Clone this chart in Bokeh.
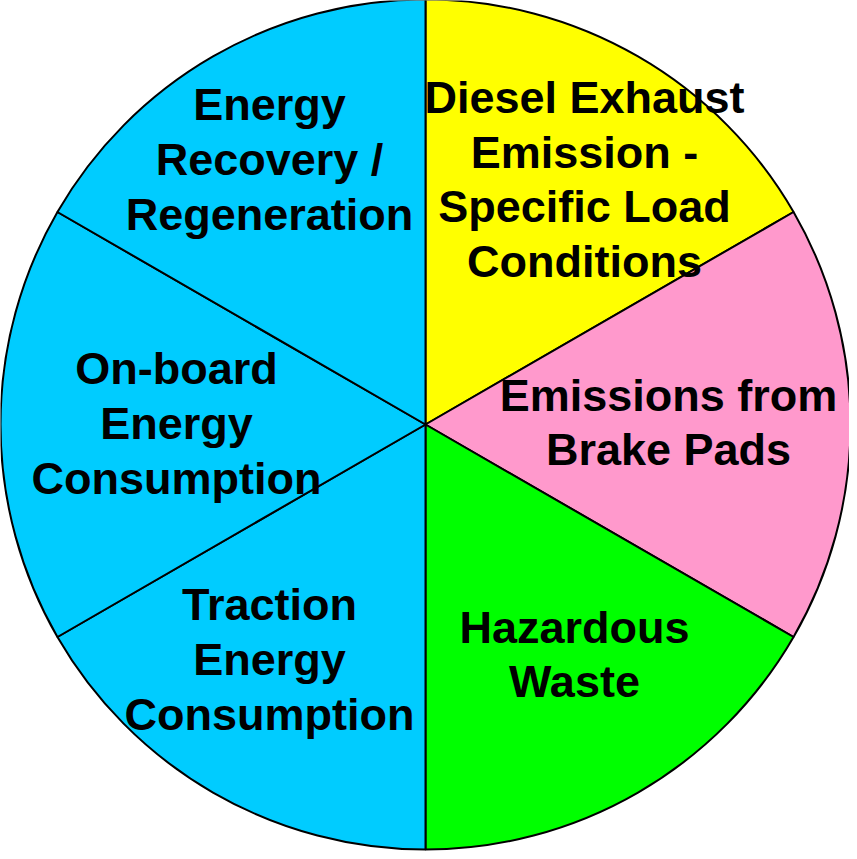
from bokeh.plotting import figure
from bokeh.models import ColumnDataSource, Range1d
from bokeh.core.properties import value
from bokeh.embed import file_html
from bokeh.resources import INLINE
import math

# Data (clockwise from 12 o'clock)
labels = [
    "Diesel Exhaust\nEmission -\nSpecific Load\nConditions",
    "Emissions from\nBrake Pads",
    "Hazardous\nWaste",
    "Traction\nEnergy\nConsumption",
    "On-board\nEnergy\nConsumption",
    "Energy\nRecovery /\nRegeneration",
]
values = [1, 1, 1, 1, 1, 1]
colors = ["#FFFF00", "#FF99CC", "#00FF00", "#00CCFF", "#00CCFF", "#00CCFF"]

# Layout
W, H = 849, 851
cx, cy, R = 425, 427, 425
label_x = [584, 668, 574, 269, 176, 269]
label_y = [672, 429, 197, 192, 428, 692]

total = sum(values)
starts, ends = [], []
cum = 0.0
for v in values:
    a0 = math.pi / 2 - 2 * math.pi * cum / total
    cum += v
    a1 = math.pi / 2 - 2 * math.pi * cum / total
    starts.append(a1)
    ends.append(a0)

src = ColumnDataSource(dict(x=[cx] * 6, y=[cy] * 6, start=starts, end=ends, color=colors))
lsrc = ColumnDataSource(dict(x=label_x, y=label_y, text=labels))

p = figure(width=W, height=H, output_backend="svg", toolbar_location=None,
           x_range=Range1d(0, W), y_range=Range1d(0, H), min_border=0)
p.axis.visible = False
p.grid.visible = False
p.outline_line_color = None
p.background_fill_color = "white"
p.border_fill_color = "white"

p.wedge(x="x", y="y", radius=R, radius_units="data", start_angle="start", end_angle="end",
        direction="anticlock", fill_color="color", line_color="black", line_width=2, source=src)

p.text(x="x", y="y", text="text", source=lsrc, text_align="center", text_baseline="middle",
       text_font=value("Liberation Sans"), text_font_style="bold", text_font_size="45px",
       text_color="black", text_line_height=1.075)

open("out.html", "w").write(file_html(p, INLINE))
